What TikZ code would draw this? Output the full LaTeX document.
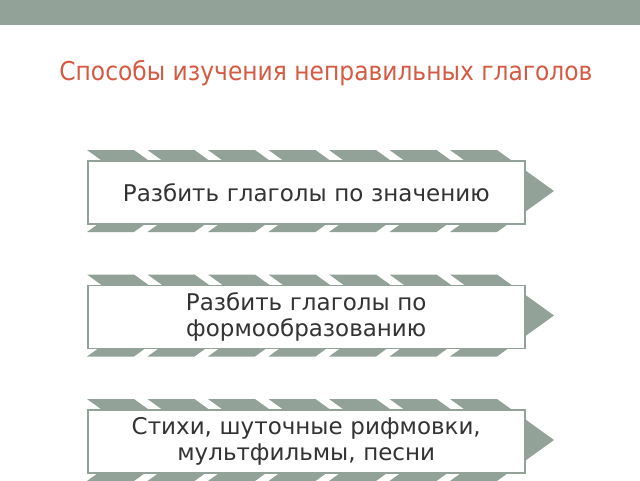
\documentclass[tikz,border=0pt]{standalone}
\usepackage{fontspec}
\setmainfont{DejaVu Sans}
\newfontfamily\titlefont{DejaVu Sans Condensed}
\definecolor{sage}{HTML}{93A299}
\definecolor{titlered}{HTML}{D65A42}
\definecolor{txt}{HTML}{333333}
\begin{document}
\begin{tikzpicture}[x=1pt,y=-1pt,
  chev/.style={fill=sage,draw=none},
  boxst/.style={draw=sage,line width=1.5pt,fill=white,minimum width=437pt,minimum height=63pt,anchor=north west,inner sep=0pt,
    font=\fontsize{23}{26}\selectfont,text=txt,align=center,text width=430pt},
  titlest/.style={font=\titlefont\fontsize{26}{31}\selectfont,text=titlered,anchor=center}]
\useasboundingbox (0,0) rectangle (640,480);
\fill[sage] (0,0) rectangle (640,25);
\node[titlest] (title) at (326,73) {Способы изучения неправильных глаголов};
\foreach \T/\B in {150/232, 274.5/356.5, 399/481}{
  \pgfmathsetmacro{\M}{(\T+\B)/2}
  \foreach \i in {0,...,6}{
    \pgfmathsetmacro{\xa}{87+60.5*\i}
    \fill[chev] (\xa,\T) -- ++(47,0) -- (\xa+104,\M) -- (\xa+47,\B) -- (\xa,\B) -- (\xa+57,\M) -- cycle;
  }
}
\node[boxst] (b1) at (87,160) {Разбить глаголы по значению};
\node[boxst] (b2) at (87,284.5) {Разбить глаголы по\\формообразованию};
\node[boxst] (b3) at (87,409) {Стихи, шуточные рифмовки,\\мультфильмы, песни};
\end{tikzpicture}
\end{document}
